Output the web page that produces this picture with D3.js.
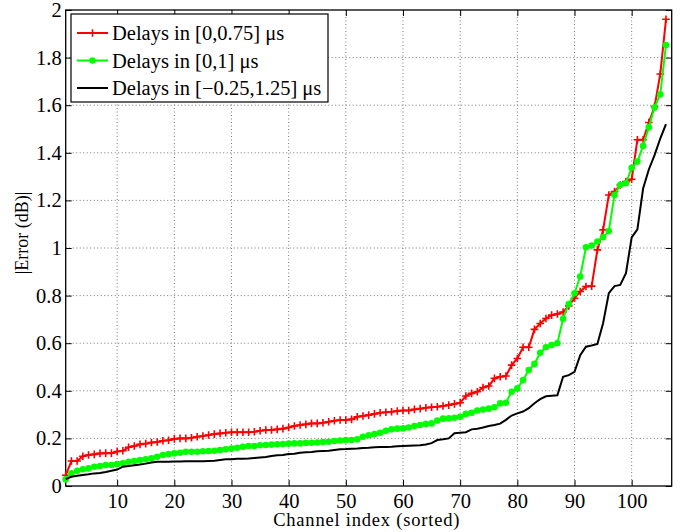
<!DOCTYPE html>
<html><head><meta charset="utf-8">
<script src="https://cdn.jsdelivr.net/npm/d3@7"></script>
<style>body{margin:0;background:#fff}svg{display:block}svg text{font-family:"Liberation Serif","Times New Roman",serif;}</style>
</head><body><svg id="c" width="697" height="532"></svg>
<script>
const xTicks = [10,20,30,40,50,60,70,80,90,100];
const yTicks = [0,0.2,0.4,0.6,0.8,1,1.2,1.4,1.6,1.8,2];
const yTickLabels = ["0","0.2","0.4","0.6","0.8","1","1.2","1.4","1.6","1.8","2"];
const seriesNames = ["Delays in [0,0.75] \u03bcs","Delays in [0,1] \u03bcs","Delays in [\u22120.25,1.25] \u03bcs"];
const red = [0.045,0.105,0.105,0.125,0.13,0.133,0.137,0.138,0.138,0.145,0.148,0.163,0.168,0.175,0.178,0.183,0.185,0.19,0.192,0.198,0.2,0.2,0.203,
0.207,0.21,0.214,0.218,0.221,0.224,0.226,0.226,0.226,0.226,0.228,0.232,0.235,0.235,0.238,0.241,0.246,0.252,0.256,0.259,0.263,0.263,0.266,0.27,0.274,0.277,
0.277,0.28,0.291,0.294,0.298,0.303,0.308,0.31,0.312,0.315,0.317,0.317,0.322,0.325,0.329,0.331,0.333,0.336,0.34,0.345,0.35,0.378,0.389,0.396,0.414,0.42,
0.452,0.459,0.462,0.508,0.536,0.583,0.583,0.658,0.683,0.704,0.718,0.723,0.731,0.757,0.789,0.817,0.838,0.84,0.992,1.076,1.223,1.237,1.265,1.279,1.289,1.455,1.455,1.527,1.594,1.731,1.961];
const green = [0.028,0.053,0.064,0.07,0.074,0.081,0.084,0.088,0.088,0.092,0.095,0.102,0.105,0.109,0.112,0.116,0.123,0.13,0.134,0.137,0.14,0.144,0.144,
0.144,0.146,0.147,0.148,0.151,0.154,0.157,0.161,0.165,0.168,0.168,0.171,0.172,0.174,0.175,0.176,0.178,0.179,0.179,0.181,0.182,0.183,0.185,0.186,0.189,0.191,
0.193,0.193,0.196,0.207,0.213,0.218,0.224,0.232,0.238,0.241,0.242,0.246,0.252,0.256,0.261,0.263,0.275,0.283,0.284,0.287,0.291,0.303,0.308,0.317,0.321,0.325,
0.331,0.347,0.35,0.396,0.41,0.445,0.487,0.513,0.56,0.583,0.592,0.6,0.703,0.765,0.81,0.88,1.003,1.01,1.027,1.045,1.071,1.223,1.265,1.272,1.337,1.363,1.429,1.507,1.59,1.646,1.853];
const black = [0.029,0.039,0.043,0.046,0.049,0.053,0.055,0.059,0.064,0.069,0.081,0.084,0.087,0.09,0.094,0.099,0.102,0.102,0.102,0.103,0.103,0.104,0.104,
0.104,0.104,0.105,0.106,0.109,0.112,0.112,0.114,0.115,0.116,0.118,0.12,0.122,0.126,0.129,0.13,0.134,0.136,0.14,0.142,0.143,0.146,0.147,0.148,0.151,0.154,
0.155,0.157,0.158,0.16,0.161,0.163,0.164,0.164,0.165,0.167,0.168,0.169,0.17,0.171,0.174,0.18,0.193,0.196,0.2,0.222,0.224,0.226,0.238,0.241,0.246,0.252,
0.256,0.262,0.278,0.296,0.305,0.313,0.327,0.348,0.365,0.377,0.379,0.381,0.459,0.466,0.48,0.55,0.585,0.59,0.597,0.684,0.81,0.84,0.845,0.894,1.045,1.078,1.25,1.33,1.39,1.46,1.52];

const L=65.7,R=671.7,T=10,B=486;
const svg=d3.select("#c");
const x=d3.scaleLinear().domain([1,107]).range([L,R]);
const y=d3.scaleLinear().domain([0,2]).range([B,T]);
const font='"Liberation Serif","Times New Roman",serif';

// grid
const g=svg.append("g");
g.selectAll(".gx").data(xTicks).join("line").attr("x1",d=>x(d)).attr("x2",d=>x(d)).attr("y1",T).attr("y2",B)
 .attr("stroke","#777").attr("stroke-width",1).attr("stroke-dasharray","1,2.5");
g.selectAll(".gy").data(yTicks.slice(1,-1)).join("line").attr("y1",d=>y(d)).attr("y2",d=>y(d)).attr("x1",L).attr("x2",R)
 .attr("stroke","#777").attr("stroke-width",1).attr("stroke-dasharray","1,2.5");

// axes with inward ticks
const ax=d3.axisBottom(x).tickValues(xTicks).tickSize(-6).tickPadding(7.5).tickFormat(d3.format("d"));
const ay=d3.axisLeft(y).tickValues(yTicks).tickSize(-6).tickPadding(4).tickFormat((d,i)=>yTickLabels[i]);
svg.append("g").attr("transform",`translate(0,${B})`).call(ax);
svg.append("g").attr("transform",`translate(${L},0)`).call(ay);
svg.append("g").attr("transform",`translate(0,${T})`).call(d3.axisTop(x).tickValues(xTicks).tickSize(-6).tickFormat(""));
svg.append("g").attr("transform",`translate(${R},0)`).call(d3.axisRight(y).tickValues(yTicks).tickSize(-6).tickFormat(""));
svg.selectAll(".domain").remove();
svg.selectAll("g").attr("font-family",null).attr("font-size",null);
svg.selectAll(".tick line").attr("stroke","#000").attr("stroke-width",1);
svg.selectAll(".tick text").style("font-family",font).style("font-size","20.5px").attr("fill","#000");
svg.append("rect").attr("x",L).attr("y",T).attr("width",R-L).attr("height",B-T).attr("fill","none").attr("stroke","#000").attr("stroke-width",1.3);

// series
const line=d3.line().x((d,i)=>x(i+1)).y(d=>y(d));
const plusPath="M-3.8,0H3.8M0,-3.8V3.8";
svg.append("path").datum(red).attr("d",line).attr("fill","none").attr("stroke","#ff0000").attr("stroke-width",2);
svg.append("g").selectAll("path").data(red).join("path").attr("d",plusPath)
 .attr("transform",(d,i)=>`translate(${x(i+1)},${y(d)})`).attr("stroke","#ff0000").attr("stroke-width",1.6).attr("fill","none");
svg.append("path").datum(green).attr("d",line).attr("fill","none").attr("stroke","#00ff00").attr("stroke-width",2);
svg.append("g").selectAll("circle").data(green).join("circle").attr("cx",(d,i)=>x(i+1)).attr("cy",d=>y(d)).attr("r",3.3).attr("fill","#00ff00");
svg.append("path").datum(black).attr("d",line).attr("fill","none").attr("stroke","#000").attr("stroke-width",2);

// legend
const lg=svg.append("g");
lg.append("rect").attr("x",71).attr("y",14).attr("width",257).attr("height",88).attr("fill","#fff").attr("stroke","#000").attr("stroke-width",1.2);
const colors=["#ff0000","#00ff00","#000"];
seriesNames.forEach((n,k)=>{
  const cy=33+k*27.5;
  lg.append("line").attr("x1",77).attr("x2",108).attr("y1",cy).attr("y2",cy).attr("stroke",colors[k]).attr("stroke-width",2);
  if(k===0) lg.append("path").attr("d",plusPath).attr("transform",`translate(92.5,${cy})`).attr("stroke",colors[k]).attr("stroke-width",1.6);
  if(k===1) lg.append("circle").attr("cx",92.5).attr("cy",cy).attr("r",3.3).attr("fill",colors[k]);
  lg.append("text").attr("x",112).attr("y",cy+7).style("font-family",font).style("font-size","20.5px").text(n);
});

// labels
svg.append("text").attr("x",(L+R)/2-2).attr("y",526).attr("text-anchor","middle").style("font-family",font).style("font-size","18.5px").style("letter-spacing","0.8px").text("Channel index (sorted)");
svg.append("text").attr("transform","translate(28,233) rotate(-90)").attr("text-anchor","middle").style("font-family",font).style("font-size","18px").text("|Error (dB)|");
</script></body></html>
